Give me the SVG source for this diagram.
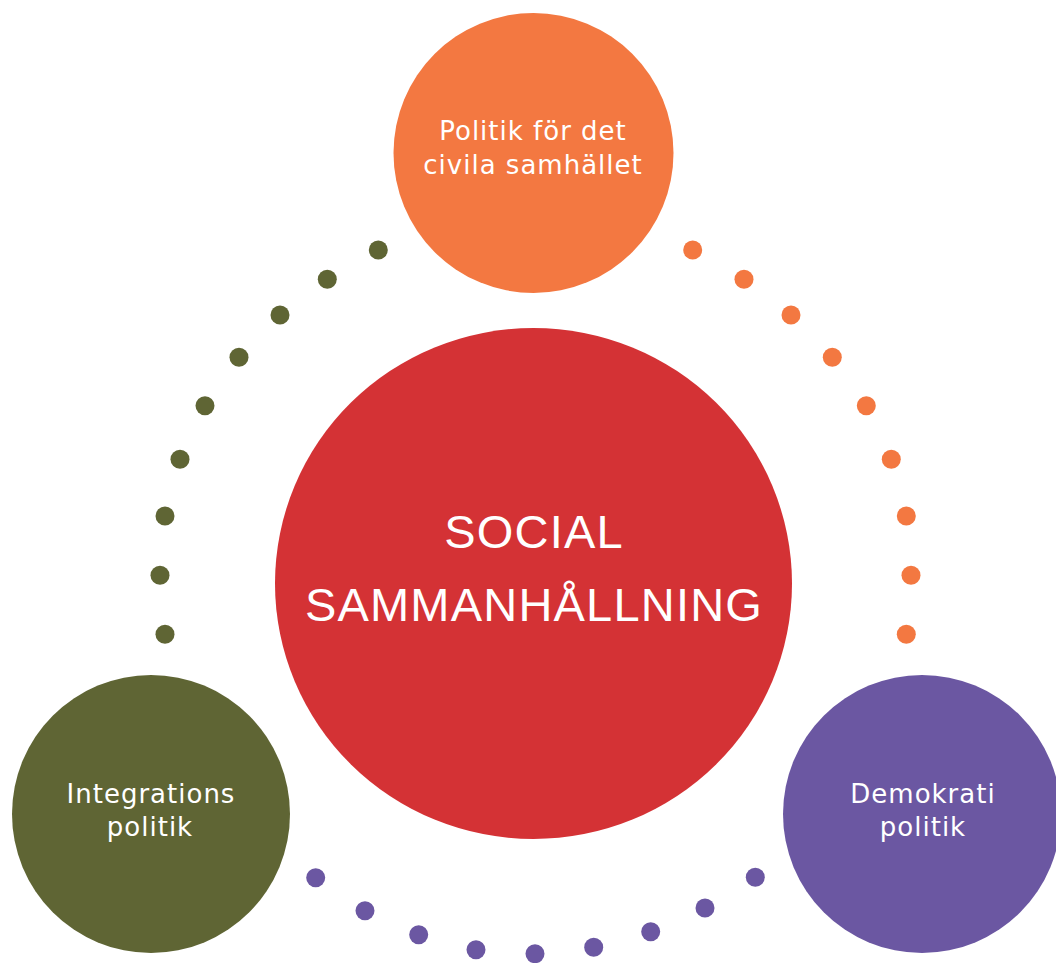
<svg xmlns="http://www.w3.org/2000/svg" width="1056" height="963" viewBox="0 0 1056 963">
  <style>
    .lbl { font-family: "DejaVu Sans", "Liberation Sans", sans-serif; font-size: 26px; fill: #ffffff; text-anchor: middle; letter-spacing: 1px; }
    .big { font-family: "Liberation Sans", Arial, sans-serif; font-size: 47px; fill: #ffffff; text-anchor: middle; letter-spacing: 1.2px; }
    .dg { fill: #5F6534; }
    .do { fill: #F37841; }
    .dp { fill: #6B57A2; }
  </style>
  <rect width="1056" height="963" fill="#ffffff"/>
  <g id="connectors">
    <g id="dots-green">
      <circle class="dg" cx="378.3" cy="250" r="9.5"/>
      <circle class="dg" cx="327.3" cy="279.3" r="9.5"/>
      <circle class="dg" cx="280" cy="315" r="9.5"/>
      <circle class="dg" cx="239" cy="357.3" r="9.5"/>
      <circle class="dg" cx="205" cy="405.7" r="9.5"/>
      <circle class="dg" cx="180" cy="459.3" r="9.5"/>
      <circle class="dg" cx="165" cy="516" r="9.5"/>
      <circle class="dg" cx="160" cy="575.3" r="9.5"/>
      <circle class="dg" cx="165" cy="634.3" r="9.5"/>
    </g>
    <g id="dots-orange">
      <circle class="do" cx="692.7" cy="250" r="9.5"/>
      <circle class="do" cx="744" cy="279.3" r="9.5"/>
      <circle class="do" cx="791" cy="315" r="9.5"/>
      <circle class="do" cx="832.3" cy="357.3" r="9.5"/>
      <circle class="do" cx="866.3" cy="405.7" r="9.5"/>
      <circle class="do" cx="891.3" cy="459.3" r="9.5"/>
      <circle class="do" cx="906.3" cy="516" r="9.5"/>
      <circle class="do" cx="911" cy="575.3" r="9.5"/>
      <circle class="do" cx="906.3" cy="634.3" r="9.5"/>
    </g>
    <g id="dots-purple">
      <circle class="dp" cx="315.7" cy="877.7" r="9.5"/>
      <circle class="dp" cx="365" cy="910.7" r="9.5"/>
      <circle class="dp" cx="418.7" cy="934.7" r="9.5"/>
      <circle class="dp" cx="476" cy="949.7" r="9.5"/>
      <circle class="dp" cx="535" cy="953.7" r="9.5"/>
      <circle class="dp" cx="593.7" cy="947.3" r="9.5"/>
      <circle class="dp" cx="650.7" cy="931.7" r="9.5"/>
      <circle class="dp" cx="705" cy="908" r="9.5"/>
      <circle class="dp" cx="755.3" cy="877.3" r="9.5"/>
    </g>
  </g>
  <g id="node-center">
    <ellipse cx="533.5" cy="583.5" rx="258.5" ry="255.5" fill="#D43235"/>
    <text class="big" x="534" y="547.5">SOCIAL</text>
    <text class="big" x="534" y="621">SAMMANHÅLLNING</text>
  </g>
  <g id="node-civil">
    <circle cx="533.5" cy="153" r="140" fill="#F37841"/>
    <text class="lbl" x="533" y="140">Politik för det</text>
    <text class="lbl" x="533" y="174">civila samhället</text>
  </g>
  <g id="node-integration">
    <circle cx="151" cy="814" r="139" fill="#5F6534"/>
    <text class="lbl" x="151" y="803">Integrations</text>
    <text class="lbl" x="150" y="836">politik</text>
  </g>
  <g id="node-demokrati">
    <circle cx="922" cy="814" r="139" fill="#6B57A2"/>
    <text class="lbl" x="923" y="803">Demokrati</text>
    <text class="lbl" x="923" y="836">politik</text>
  </g>
</svg>
